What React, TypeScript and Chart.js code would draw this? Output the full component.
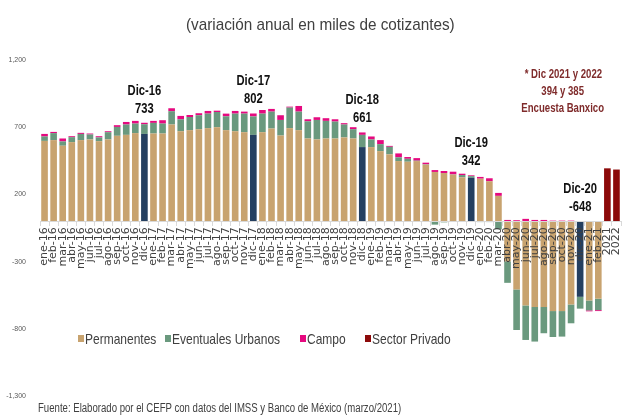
import React, { useEffect, useRef } from 'react';
import { Chart, registerables } from 'chart.js';

Chart.register(...registerables);

const categories = [
  'ene-16', 'feb-16', 'mar-16', 'abr-16', 'may-16', 'jun-16', 'jul-16', 'ago-16', 'sep-16', 'oct-16', 'nov-16', 'dic-16',
  'ene-17', 'feb-17', 'mar-17', 'abr-17', 'may-17', 'jun-17', 'jul-17', 'ago-17', 'sep-17', 'oct-17', 'nov-17', 'dic-17',
  'ene-18', 'feb-18', 'mar-18', 'abr-18', 'may-18', 'jun-18', 'jul-18', 'ago-18', 'sep-18', 'oct-18', 'nov-18', 'dic-18',
  'ene-19', 'feb-19', 'mar-19', 'abr-19', 'may-19', 'jun-19', 'jul-19', 'ago-19', 'sep-19', 'oct-19', 'nov-19', 'dic-19',
  'ene-20', 'feb-20', 'mar-20', 'abr-20', 'may-20', 'jun-20', 'jul-20', 'ago-20', 'sep-20', 'oct-20', 'nov-20', 'dic-20',
  'ene-21', 'feb-21', '2021', '2022',
];

const permanentes = [
  598, 604, 562, 589, 604, 609, 596, 609, 636, 643, 656, 650,
  653, 653, 720, 670, 678, 685, 693, 700, 678, 670, 663, 643,
  663, 690, 638, 693, 678, 616, 609, 616, 616, 624, 616, 552,
  552, 522, 498, 448, 443, 448, 421, 367, 359, 347, 327, 324,
  317, 298, 189, -298, -507, -626, -638, -638, -668, -668, -619, -562,
  -589, -576, null, null,
];

const eventualesUrbanos = [
  33, 52, 32, 37, 46, 37, 28, 54, 66, 77, 71, 72,
  79, 74, 99, 89, 98, 104, 108, 113, 103, 131, 138, 137,
  138, 126, 116, 153, 138, 128, 145, 131, 126, 96, 69, 91,
  57, 52, 56, 28, 22, 3, 3, -25, -8, 2, 17, 12,
  -6, -6, -60, -160, -302, -257, -257, -195, -193, -190, -140, -88,
  -74, -85, null, null,
];

const campo = [
  19, 9, 22, 7, 8, 7, 9, 7, 13, 19, 20, 11,
  15, 25, 22, 25, 15, 15, 20, 10, 20, 20, 15, 22,
  27, 20, 35, 7, 42, 15, 20, 20, 17, 10, 15, 18,
  22, 30, 7, 29, 13, 19, 12, 14, 15, 20, 10, 6,
  13, 22, 22, 10, 8, 18, 10, 10, 5, 5, 5, 2,
  -7, -7, null, null,
];

const sectorPrivado = [
  ...new Array(62).fill(null), 394, 385,
];

const decemberLabels = [
  { category: 'dic-16', title: 'Dic-16', value: '733' },
  { category: 'dic-17', title: 'Dic-17', value: '802' },
  { category: 'dic-18', title: 'Dic-18', value: '661' },
  { category: 'dic-19', title: 'Dic-19', value: '342' },
  { category: 'dic-20', title: 'Dic-20', value: '-648' },
];

const yTicks = { min: -1300, max: 1200, step: 500 };

const C_PERM = '#C8A36F';
const C_EVENT = '#6A997E';
const C_CAMPO = '#E5097F';
const C_PRIV = '#8C0A0A';
const C_DEC = '#243F60';

const SANS = "'Liberation Sans', Arial, sans-serif";
const TICKFONT = "'DejaVu Sans', 'Liberation Sans', sans-serif";
const NARROW_X = 0.8;

const decLabelPlugin = {
  id: 'decLabels',
  afterDatasetsDraw(chart: any) {
    const { ctx, scales } = chart;
    const xs = scales.x;
    const ys = scales.y;
    ctx.save();
    ctx.textAlign = 'center';
    ctx.textBaseline = 'middle';
    ctx.fillStyle = '#111111';
    ctx.font = `bold 14px ${SANS}`;
    decemberLabels.forEach((d) => {
      const i = categories.indexOf(d.category);
      let pos = 0;
      [permanentes, eventualesUrbanos, campo].forEach((arr) => {
        const v = arr[i] as number;
        if (v > 0) pos += v;
      });
      const x = xs.getPixelForValue(i);
      const top = ys.getPixelForValue(pos);
      [[d.value, top - 14], [d.title, top - 32]].forEach(([txt, y]) => {
        ctx.save();
        ctx.translate(x, y as number);
        ctx.scale(NARROW_X, 1);
        ctx.fillText(txt as string, 0, 0);
        ctx.restore();
      });
    });
    ctx.restore();
  },
};

function Narrow({ children, style, sx = NARROW_X }: { children: React.ReactNode; style?: React.CSSProperties; sx?: number }) {
  return (
    <span style={{ display: 'inline-block', transform: `scaleX(${sx})`, transformOrigin: 'center', whiteSpace: 'nowrap', ...style }}>
      {children}
    </span>
  );
}

export default function App() {
  const canvasRef = useRef<HTMLCanvasElement | null>(null);

  useEffect(() => {
    document.body.style.margin = '0';
    const canvas = canvasRef.current;
    if (!canvas) return;
    const decIdx = decemberLabels.map((d) => categories.indexOf(d.category));
    const permColors = categories.map((_, i) => (decIdx.includes(i) ? C_DEC : C_PERM));

    const chart = new Chart(canvas, {
      type: 'bar',
      data: {
        labels: categories,
        datasets: [
          { label: 'Permanentes', data: permanentes, backgroundColor: permColors, stack: 's' },
          { label: 'Eventuales Urbanos', data: eventualesUrbanos, backgroundColor: C_EVENT, stack: 's' },
          { label: 'Campo', data: campo, backgroundColor: C_CAMPO, stack: 's' },
          { label: 'Sector Privado', data: sectorPrivado, backgroundColor: C_PRIV, stack: 's' },
        ],
      },
      options: {
        animation: false,
        responsive: false,
        maintainAspectRatio: false,
        devicePixelRatio: 1,
        datasets: {
          bar: { categoryPercentage: 1, barPercentage: 0.73 },
        },
        layout: { padding: { left: 0, top: 60, right: 7, bottom: 21 } },
        plugins: {
          legend: { display: false },
          tooltip: { enabled: false },
          title: { display: false },
        },
        scales: {
          x: {
            stacked: true,
            position: { y: 0 } as any,
            offset: true,
            grid: {
              display: true,
              drawOnChartArea: false,
              drawTicks: true,
              tickLength: 4,
              color: '#D9D9D9',
              offset: true,
            },
            border: { display: true, color: '#D9D9D9', width: 1, z: 1 } as any,
            ticks: {
              autoSkip: false,
              maxRotation: 90,
              minRotation: 90,
              padding: 2,
              z: 1,
              color: '#404040',
              font: { family: TICKFONT, size: 11 },
            },
            afterFit: (scale: any) => {
              scale.paddingLeft = 0;
              scale.paddingRight = 0;
            },
          },
          y: {
            stacked: true,
            min: yTicks.min,
            max: yTicks.max,
            grid: { display: false },
            border: { display: false },
            ticks: {
              stepSize: yTicks.step,
              padding: 6,
              color: '#595959',
              font: { family: SANS, size: 7 },
            },
            afterFit: (scale: any) => {
              scale.width = 40;
              scale.paddingTop = 0;
              scale.paddingBottom = 0;
            },
          },
        },
      },
      plugins: [decLabelPlugin],
    });
    return () => chart.destroy();
  }, []);

  const legendItems = [
    { label: 'Permanentes', color: C_PERM, left: 78 },
    { label: 'Eventuales Urbanos', color: C_EVENT, left: 165 },
    { label: 'Campo', color: C_CAMPO, left: 300 },
    { label: 'Sector Privado', color: C_PRIV, left: 365 },
  ];

  return (
    <div style={{ position: 'absolute', left: 0, top: 0, width: 628, height: 417, background: '#fff', fontFamily: SANS }}>
      <canvas ref={canvasRef} width={628} height={417} style={{ position: 'absolute', left: 0, top: 0, width: 628, height: 417 }} />
      <div style={{ position: 'absolute', left: 0, width: 640, top: 14, textAlign: 'center', fontSize: 17, color: '#404040', lineHeight: '22px' }}>
        <Narrow sx={0.9}>(variación anual en miles de cotizantes)</Narrow>
      </div>
      <div style={{ position: 'absolute', left: 503, width: 120, top: 66, textAlign: 'center', fontSize: 12, fontWeight: 'bold', color: '#7F2B2B', lineHeight: '17px' }}>
        <div><Narrow>* Dic 2021 y 2022</Narrow></div>
        <div><Narrow>394 y 385</Narrow></div>
        <div><Narrow>Encuesta Banxico</Narrow></div>
      </div>
      {legendItems.map((it) => (
        <div key={it.label} style={{ position: 'absolute', left: it.left, top: 329, height: 18, display: 'flex', alignItems: 'center', fontSize: 15, color: '#404040', whiteSpace: 'nowrap' }}>
          <span style={{ display: 'inline-block', width: 6, height: 7, background: it.color, marginRight: 1 }} />
          <Narrow style={{ transformOrigin: 'left center' }}>{it.label}</Narrow>
        </div>
      ))}
      <div style={{ position: 'absolute', left: 38, top: 401, fontSize: 12, color: '#404040', whiteSpace: 'nowrap', lineHeight: '14px' }}>
        <Narrow style={{ transformOrigin: 'left center' }}>Fuente: Elaborado por el CEFP con datos del IMSS y Banco de México (marzo/2021)</Narrow>
      </div>
    </div>
  );
}
